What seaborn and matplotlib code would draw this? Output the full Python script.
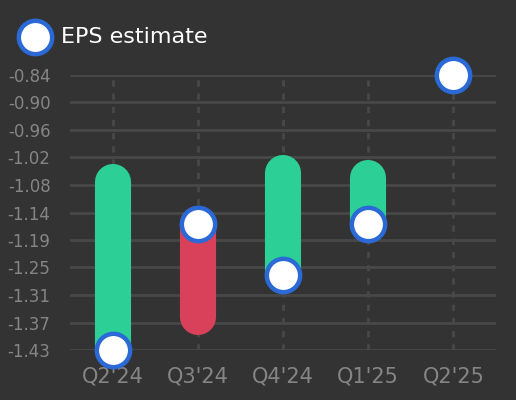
import matplotlib
matplotlib.use("Agg")
import matplotlib.pyplot as plt
import numpy as np
import pandas as pd
import seaborn as sns

# quarterly EPS: consensus estimate vs reported actual
quarters = ["Q2'24", "Q3'24", "Q4'24", "Q1'25", "Q2'25"]
eps_estimate = [-1.43, -1.16, -1.27, -1.16, -0.84]
eps_actual = [-1.07, -1.36, -1.05, -1.06, None]

BG = "#333333"
GREEN = "#2ccf96"
RED = "#d9415a"
BLUE = "#2a69d6"
GRID = "#484848"
TICK = "#858585"

df = pd.DataFrame({"quarter": quarters, "estimate": eps_estimate, "actual": eps_actual})
df["pos"] = np.arange(len(df))

sns.set_theme(style="dark", rc={
    "figure.facecolor": BG,
    "axes.facecolor": BG,
    "axes.edgecolor": BG,
    "text.color": "white",
    "xtick.color": TICK,
    "ytick.color": TICK,
})
plt.rcParams["font.family"] = ["DejaVu Sans"]

fig = plt.figure(figsize=(5.16, 4.0), dpi=100)
ax = fig.add_axes([70 / 516, 50 / 400, 426 / 516, 275 / 400])

# bars between estimate and actual, green for beat and red for miss
has_actual = df.dropna(subset=["actual"])
colors = [GREEN if a > e else RED for a, e in zip(has_actual["actual"], has_actual["estimate"])]
bars = ax.vlines(has_actual["pos"], has_actual["estimate"], has_actual["actual"],
                 colors=colors, linewidth=26, zorder=2)
bars.set_capstyle("round")

sns.scatterplot(data=df, x="pos", y="estimate", ax=ax, s=24 ** 2, color="white",
                edgecolor=BLUE, linewidth=3.2, zorder=3, label="EPS estimate",
                clip_on=False)

ymin, ymax = -1.43, -0.84
ax.set_ylim(ymin, ymax)
ax.set_xlim(-0.5, len(quarters) - 0.5)
yt = np.linspace(ymin, ymax, 11)
ax.set_yticks(yt)
ax.set_yticklabels([f"{v:.2f}" for v in yt])
ax.set_xticks(df["pos"])
ax.set_xticklabels(quarters)
ax.tick_params(axis="both", length=0)
ax.tick_params(axis="y", pad=14, labelsize=12)
ax.tick_params(axis="x", pad=12, labelsize=15)

for v in yt:
    ax.axhline(v, color=GRID, linewidth=2, zorder=1)
for p in df["pos"]:
    ax.axvline(p, color=GRID, linewidth=2, linestyle=(0, (2.25, 2.5)), zorder=1)

ax.set_xlabel("")
ax.set_ylabel("")
for s in ax.spines.values():
    s.set_visible(False)

ax.get_legend().remove()
handles, labels = ax.get_legend_handles_labels()
fig.legend(handles, labels, loc="center left", bbox_to_anchor=(0.007, 1 - 37 / 400),
           frameon=False, fontsize=16, handletextpad=0.2, borderaxespad=0)

fig.savefig("out.png", dpi=100, facecolor=BG)
